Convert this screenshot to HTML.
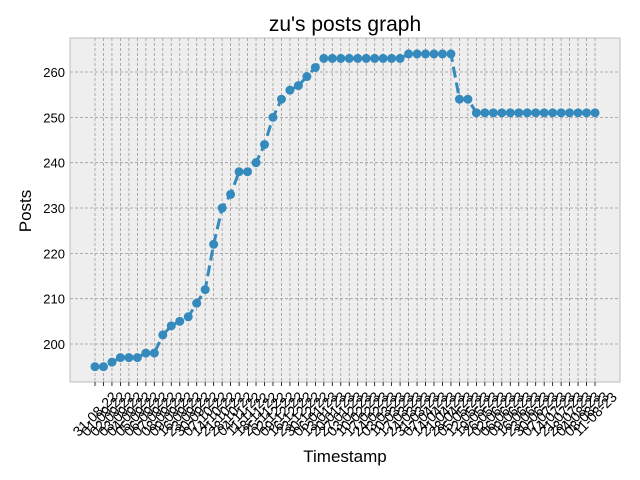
<!DOCTYPE html>
<html><head><meta charset="utf-8"><style>
body{margin:0;background:#fff;}
svg{display:block;font-family:"Liberation Sans","DejaVu Sans",sans-serif;}
</style></head><body>
<svg id="chart" width="640" height="480" viewBox="0 0 640 480">
<rect x="0" y="0" width="640" height="480" fill="#fff"/>
<rect x="70" y="38" width="550" height="344" fill="#eeeeee" stroke="#bcbcbc"/>
<g id="grid"></g>
<g id="series"></g>
<g id="xticks"></g>
<g id="yticks"></g>
<text x="345" y="31" font-size="21" text-anchor="middle" fill="#000">zu's posts graph</text>
<text x="345" y="462" font-size="17" text-anchor="middle" fill="#000">Timestamp</text>
<text x="0" y="0" font-size="17" text-anchor="middle" fill="#000" transform="translate(31,211) rotate(-90)">Posts</text>
</svg>
<script>
const categories = ["31-08-22","01-09-22","02-09-22","03-09-22","04-09-22","05-09-22","06-09-22","07-09-22","08-09-22","09-09-22","16-09-22","23-09-22","30-09-22","07-10-22","14-10-22","21-10-22","28-10-22","04-11-22","11-11-22","18-11-22","25-11-22","02-12-22","09-12-22","16-12-22","23-12-22","30-12-22","06-01-23","13-01-23","20-01-23","27-01-23","03-02-23","10-02-23","17-02-23","24-02-23","03-03-23","10-03-23","17-03-23","24-03-23","31-03-23","07-04-23","14-04-23","21-04-23","28-04-23","05-05-23","12-05-23","19-05-23","26-05-23","02-06-23","06-06-23","09-06-23","16-06-23","23-06-23","30-06-23","07-07-23","14-07-23","21-07-23","28-07-23","04-08-23","08-08-23","11-08-23"];
const posts = [195,195,196,197,197,197,198,198,202,204,205,206,209,212,222,230,233,238,238,240,244,250,254,256,257,259,261,263,263,263,263,263,263,263,263,263,263,264,264,264,264,264,264,254,254,251,251,251,251,251,251,251,251,251,251,251,251,251,251,251];
const yTicks = [200,210,220,230,240,250,260];

const NS = "http://www.w3.org/2000/svg";
const X0 = 95, DX = 8.475;
const xScale = i => X0 + i * DX;
const yScale = v => 344 - (v - 200) * 4.533;
function mk(tag, attrs, parent){const e=document.createElementNS(NS,tag);for(const k in attrs)e.setAttribute(k,attrs[k]);parent.appendChild(e);return e;}
const grid=document.getElementById('grid'), series=document.getElementById('series'), xt=document.getElementById('xticks'), yt=document.getElementById('yticks');

categories.forEach((c,i)=>{
  const x=xScale(i);
  const g=mk('line',{x1:x,x2:x,y1:38,y2:382,stroke:'#9a9a9a','stroke-width':0.8,'stroke-dasharray':'3,2'},grid);
  
  
  const t=mk('line',{x1:x,x2:x,y1:382,y2:386,stroke:'#000','stroke-width':0.8},xt);
  
  
  const l=mk('text',{x:0,y:0,dy:'0.35em','font-size':14,'text-anchor':'middle',fill:'#000',transform:`translate(${x},${414}) rotate(-45)`},xt);
  l.textContent=c;
  
  
});
yTicks.forEach(v=>{
  const y=yScale(v);
  const g=mk('line',{x1:70,x2:620,y1:y,y2:y,stroke:'#9a9a9a','stroke-width':0.8,'stroke-dasharray':'3,2'},grid);
  
  
  const l=mk('text',{x:65,y:y+5,'font-size':13,'text-anchor':'end',fill:'#000'},yt);
  l.textContent=v;
  
  
});
const pts=posts.map((v,i)=>xScale(i)+','+yScale(v)).join(' ');
const line=mk('polyline',{points:pts,fill:'none',stroke:'#348ABD','stroke-width':3,'stroke-dasharray':'11,5'},series);


posts.forEach((v,i)=>{
  const c=mk('circle',{cx:xScale(i),cy:yScale(v),r:4.5,fill:'#348ABD'},series);
  
  
});
</script>
</body></html>
